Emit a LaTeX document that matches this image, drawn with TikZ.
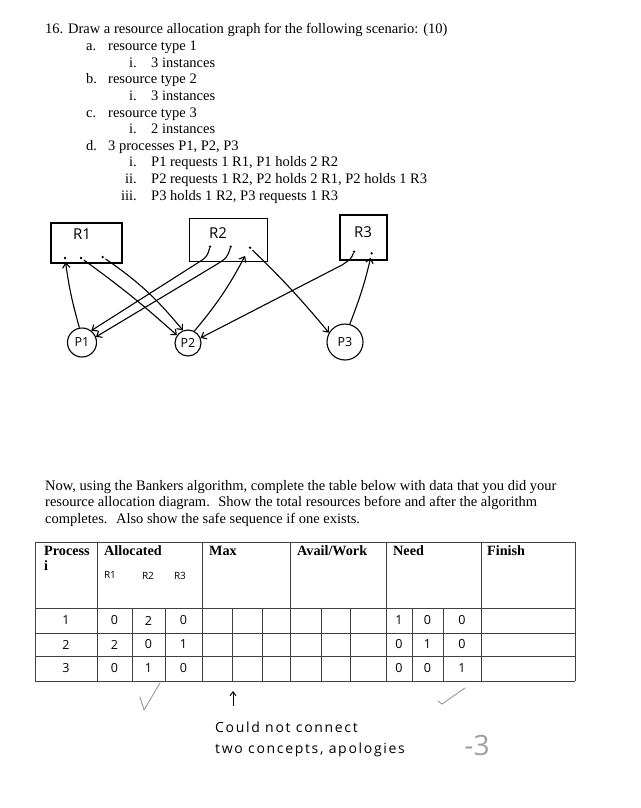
\documentclass[tikz,border=0pt]{standalone}
\usepackage{fontspec}
\setmainfont{Liberation Serif}
\newfontfamily\hand{Open Sans}
\newfontfamily\handw[LetterSpace=12]{Open Sans}
\usetikzlibrary{arrows.meta}
\begin{document}
\begin{tikzpicture}[x=1pt,y=-1pt,
  every node/.style={inner sep=0pt},
  prt/.style={anchor=base west, font=\fontsize{14.5}{16}\selectfont},
  prte/.style={anchor=base east, font=\fontsize{14.5}{16}\selectfont},
  hdr/.style={anchor=base west, font=\fontsize{14.2}{16}\selectfont\bfseries},
  hw/.style={font=\hand\fontsize{12.5}{14}\selectfont},
  hwl/.style={font=\hand\fontsize{15}{17}\selectfont},
  hws/.style={font=\hand\fontsize{10}{12}\selectfont},
  rbox/.style={draw, line width=1.1pt},
  proc/.style={draw, circle, line width=1.1pt, font=\hand\fontsize{12.5}{14}\selectfont},
  dotn/.style={circle, fill, inner sep=0pt, minimum size=2.6pt},
  arr/.style={line width=1.1pt, -{Straight Barb[length=4.5pt,width=7.5pt]}},
  tline/.style={line width=0.8pt, black!75},
  grade/.style={gray!75, line width=1pt, line cap=round, line join=round}
]
\useasboundingbox[fill=white] (0,0) rectangle (640,808);

% ---------- question text ----------
\node[prt] (h0) at (45,34) {16. Draw a resource allocation graph for the following scenario: (10)};
\node[prt] (ha) at (86,50.6) {a.};   \node[prt] (hat) at (108,50.6) {resource type 1};
\node[prte] (hai) at (137,67.2) {i.}; \node[prt] (hait) at (151,67.2) {3 instances};
\node[prt] (hb) at (86,83.8) {b.};   \node[prt] (hbt) at (108,83.8) {resource type 2};
\node[prte] (hbi) at (137,100.4) {i.}; \node[prt] (hbit) at (151,100.4) {3 instances};
\node[prt] (hc) at (86,117) {c.};  \node[prt] (hct) at (108,117) {resource type 3};
\node[prte] (hci) at (137,133.6) {i.}; \node[prt] (hcit) at (151,133.6) {2 instances};
\node[prt] (hd) at (86,150.2) {d.};  \node[prt] (hdt) at (108,150.2) {3 processes P1, P2, P3};
\node[prte] (hd1) at (137,166.8) {i.};   \node[prt] (hd1t) at (151,166.8) {P1 requests 1 R1, P1 holds 2 R2};
\node[prte] (hd2) at (137,183.4) {ii.};  \node[prt] (hd2t) at (151,183.4) {P2 requests 1 R2, P2 holds 2 R1, P2 holds 1 R3};
\node[prte] (hd3) at (137,200) {iii.};   \node[prt] (hd3t) at (151,200) {P3 holds 1 R2, P3 requests 1 R3};

% ---------- resource allocation graph ----------
\node[rbox, minimum width=71pt, minimum height=40pt] (R1) at (86.5,243) {};
\node[rbox, minimum width=78pt, minimum height=43pt] (R2) at (228.5,240) {};
\node[rbox, minimum width=47pt, minimum height=45pt] (R3) at (363.5,237.5) {};
\node[hwl] (R1t) at (82,234) {R1};
\node[hwl] (R2t) at (218,233) {R2};
\node[hwl] (R3t) at (363,232) {R3};
\node[dotn] (r1a) at (65,258) {};
\node[dotn] (r1b) at (81,258) {};
\node[dotn] (r1c) at (102.7,257) {};
\node[dotn] (r2a) at (210,246.7) {};
\node[dotn] (r2b) at (230.7,246.7) {};
\node[dotn] (r2c) at (250,247.7) {};
\node[dotn] (r3a) at (354,251.7) {};
\node[dotn] (r3b) at (371.7,253.3) {};
\coordinate (r2in) at (245,256);

\node[proc, minimum size=29pt] (P1) at (82,342.5) {P1};
\node[proc, minimum size=26pt] (P2) at (188,343) {P2};
\node[proc, minimum size=36pt] (P3) at (345,342) {P3};

\draw[arr, shorten >=3pt] (P1.100) to[bend left=4] (r1a);
\draw[arr, shorten <=2pt] (r1b) to[bend left=3] (P2.145);
\draw[arr, shorten <=2pt] (r1c) to[bend left=8] (P2.112);
\draw[arr] (r2a) .. controls (207,257) .. (196,264) -- (P1.52);
\draw[arr] (r2b) .. controls (227,258) .. (214,266) -- (P1.22);
\draw[arr] (P2.62) to[bend right=6] (r2in);
\draw[arr, shorten <=2pt] (r2c) to[bend left=3] (P3.150);
\draw[arr] (r3a) .. controls (351,259) .. (342,265) -- (P2.22);
\draw[arr, shorten >=3pt] (P3.75) to[bend right=4] (r3b);

% ---------- paragraph ----------
\node[prt] (p1) at (45,490) {Now, using the Bankers algorithm, complete the table below with data that you did your};
\node[prt] (p2) at (45,506.5) {resource allocation diagram. \ Show the total resources before and after the algorithm};
\node[prt] (p3) at (45,523) {completes. \ Also show the safe sequence if one exists.};

% ---------- table ----------
\foreach \yy in {542,608,633,656,681} \draw[tline] (35,\yy) -- (575,\yy);
\foreach \xx in {35,97,202,290,386,481,575} \draw[tline] (\xx,542) -- (\xx,681);
\foreach \xx in {132,165,232,262,321,350,412,443} \draw[tline] (\xx,608) -- (\xx,681);

\node[hdr] (tP) at (44,555) {Process};
\node[hdr] (ti) at (44,570.5) {i};
\node[hdr] (tA) at (104,555) {Allocated};
\node[hdr] (tM) at (209,555) {Max};
\node[hdr] (tW) at (297,555) {Avail/Work};
\node[hdr] (tN) at (393,555) {Need};
\node[hdr] (tF) at (487,555) {Finish};
\node[hws] (ar1) at (110,575) {R1};
\node[hws] (ar2) at (148,576) {R2};
\node[hws] (ar3) at (180,576) {R3};

\foreach \r/\yy/\pp/\aa/\ab/\ac/\na/\nb/\nc in
   {1/620.5/1/0/2/0/1/0/0, 2/644.5/2/2/0/1/0/1/0, 3/668.5/3/0/1/0/0/0/1} {
  \node[hw] (pr\r) at (66,\yy) {\pp};
  \node[hw] (al\r a) at (114.5,\yy) {\aa};
  \node[hw] (al\r b) at (148.5,\yy) {\ab};
  \node[hw] (al\r c) at (183.5,\yy) {\ac};
  \node[hw] (ne\r a) at (399,\yy) {\na};
  \node[hw] (ne\r b) at (427.5,\yy) {\nb};
  \node[hw] (ne\r c) at (462,\yy) {\nc};
}

% ---------- annotations ----------
\draw[grade] (140,697) -- (144,710) -- (160,683);
\coordinate (ua) at (233,706);
\coordinate (ub) at (233,691);
\draw[line width=0.9pt, -{Straight Barb[length=4pt,width=6pt]}] (ua) -- (ub);
\node[anchor=west, font=\handw\fontsize{14}{16}\selectfont] (n1) at (215,727) {Could not connect};
\node[anchor=west, font=\handw\fontsize{14}{16}\selectfont] (n2) at (215,750) {two concepts, apologies};
\draw[grade] (438,701) -- (442,704) -- (465,688);
\node[font=\hand\fontsize{28}{30}\selectfont, text=gray!75] (m3) at (477,745) {-3};
\end{tikzpicture}
\end{document}
